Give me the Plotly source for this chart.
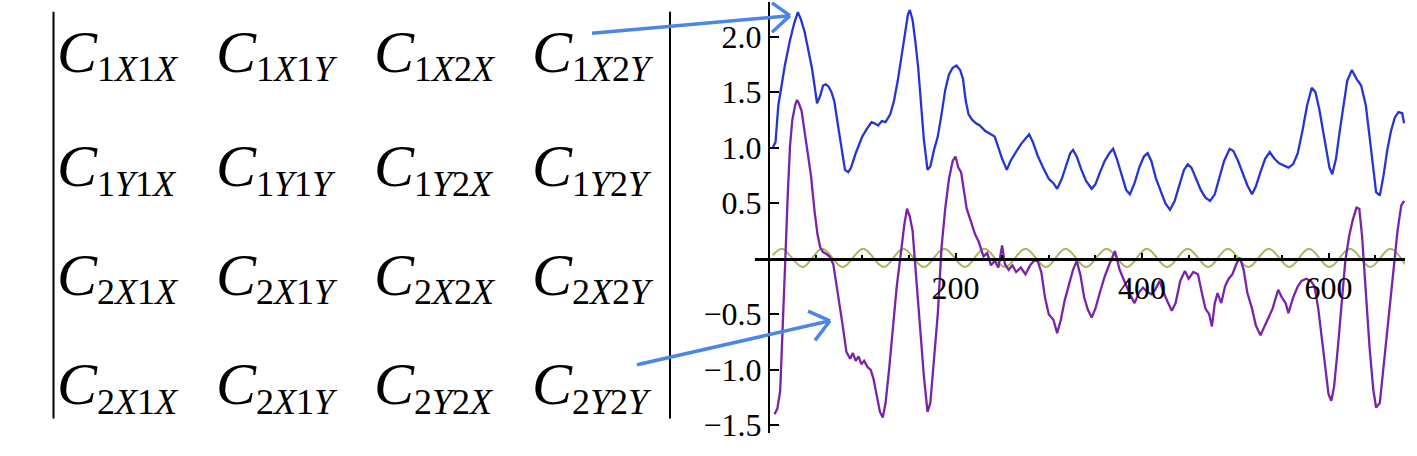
import plotly.graph_objects as go

W, H = 1417, 456

# matrix entries: subscripts of C, row by row
MATRIX_SUBS = [
    ["1X1X", "1X1Y", "1X2X", "1X2Y"],
    ["1Y1X", "1Y1Y", "1Y2X", "1Y2Y"],
    ["2X1X", "2X1Y", "2X2X", "2X2Y"],
    ["2X1X", "2X1Y", "2Y2X", "2Y2Y"],
]

# blue curve
BLUE_X = [4, 7, 10, 17, 22, 27, 31, 34, 38, 42, 46, 49, 51.5, 55, 58, 61, 64, 67, 70, 74, 78,
          81.5, 85, 88, 93, 97, 100, 105, 110, 113, 117, 121, 125, 130, 134, 138, 142, 146, 149,
          151, 154, 157, 160, 163, 166, 170, 173, 177, 181, 185, 189, 193, 197, 201, 205, 208,
          211, 214, 218, 222, 226, 232, 238, 242, 246, 250, 255, 259, 264, 270, 275, 279, 283,
          288, 294, 300, 305, 309, 314, 319, 323, 326, 330, 335, 340, 346, 350, 355, 360, 365,
          369, 373, 378, 383, 387, 392, 397, 402, 406, 410, 415, 420, 425, 430, 435, 440, 445,
          449, 453, 458, 463, 468, 473, 478, 483, 488, 494, 498, 503, 508, 513, 518, 522, 527,
          532, 537, 542, 547, 552, 557, 562, 567, 572, 577, 582, 586, 590, 594, 598, 601, 604,
          608, 612, 616, 620, 625, 630, 635, 640, 644, 648, 651, 655, 659, 663, 667, 671, 675,
          679, 681]
BLUE_Y = [1.00, 1.05, 1.38, 1.74, 1.95, 2.12, 2.22, 2.16, 2.05, 1.89, 1.72, 1.55, 1.40, 1.47,
          1.56, 1.57, 1.55, 1.50, 1.42, 1.20, 0.98, 0.80, 0.78, 0.82, 0.95, 1.04, 1.10, 1.17,
          1.23, 1.22, 1.20, 1.24, 1.23, 1.30, 1.42, 1.60, 1.82, 2.05, 2.20, 2.24, 2.15, 1.95,
          1.72, 1.40, 1.08, 0.80, 0.83, 0.98, 1.10, 1.30, 1.52, 1.66, 1.72, 1.74, 1.70, 1.62,
          1.42, 1.30, 1.25, 1.22, 1.20, 1.15, 1.12, 1.10, 1.00, 0.90, 0.80, 0.88, 0.95, 1.03,
          1.08, 1.12, 1.05, 0.93, 0.82, 0.72, 0.68, 0.63, 0.72, 0.86, 0.95, 0.98, 0.92, 0.80,
          0.70, 0.63, 0.67, 0.78, 0.88, 0.95, 0.99, 0.90, 0.75, 0.62, 0.58, 0.68, 0.82, 0.92,
          0.95, 0.88, 0.72, 0.60, 0.50, 0.44, 0.52, 0.66, 0.80, 0.85, 0.82, 0.72, 0.62, 0.55,
          0.52, 0.58, 0.74, 0.88, 0.99, 0.97, 0.88, 0.76, 0.66, 0.58, 0.65, 0.78, 0.90, 0.96,
          0.90, 0.86, 0.84, 0.82, 0.85, 0.95, 1.15, 1.38, 1.54, 1.50, 1.35, 1.15, 0.95, 0.82,
          0.76, 0.90, 1.15, 1.40, 1.60, 1.70, 1.62, 1.56, 1.38, 1.10, 0.80, 0.60, 0.57, 0.75,
          0.98, 1.15, 1.27, 1.32, 1.31, 1.22]

# purple curve
PURPLE_X = [6, 9, 12, 14, 16, 18, 20, 22.5, 25, 28, 30, 32, 35, 38, 41, 45, 49, 52, 55, 58, 62,
            65, 69, 72, 75, 79, 83, 87, 90, 93, 96, 99, 102, 106, 109, 112, 116, 119, 122, 125,
            129, 133, 137, 141, 145, 148, 151, 154, 158, 162, 166, 170, 173, 177, 181, 185, 189,
            193, 197, 200, 203, 206, 209, 212, 216, 221, 225, 230, 234, 238, 242, 246, 250, 253,
            257, 261, 265, 270, 275, 280, 284, 288, 292, 296, 300, 305, 309, 313, 317, 321, 326,
            330, 334, 338, 342, 346, 350, 355, 360, 365, 371, 376, 382, 387, 392, 397, 401, 406,
            410, 414, 419, 423, 428, 432, 436, 441, 446, 450, 455, 460, 464, 468, 472, 475, 478,
            481, 485, 489, 493, 497, 501, 505, 509, 513, 518, 522, 527, 531, 535, 540, 546, 550,
            554, 557, 562, 567, 571, 576, 581, 585, 589, 593, 597, 600, 603, 606, 610, 614, 618,
            622, 626, 630, 633, 636, 640, 644, 648, 651, 655, 660, 665, 670, 674, 678, 681]
PURPLE_Y = [-1.40, -1.35, -1.19, -0.80, -0.30, 0.10, 0.55, 1.01, 1.25, 1.38, 1.43, 1.40, 1.33,
            1.15, 1.01, 0.75, 0.42, 0.22, 0.10, 0.06, 0.04, 0.02, -0.05, -0.20, -0.38, -0.60,
            -0.84, -0.90, -0.85, -0.92, -0.88, -0.95, -0.92, -0.98, -1.00, -1.08, -1.25, -1.38,
            -1.43, -1.30, -0.98, -0.61, -0.25, 0.02, 0.30, 0.45, 0.38, 0.25, -0.20, -0.61, -1.05,
            -1.38, -1.30, -0.90, -0.50, 0.10, 0.45, 0.72, 0.88, 0.92, 0.82, 0.78, 0.60, 0.45,
            0.35, 0.22, 0.15, 0.02, 0.05, -0.06, -0.02, -0.08, 0.12, -0.05, -0.10, -0.06, -0.12,
            -0.08, -0.14, -0.06, -0.02, -0.02, -0.12, -0.35, -0.50, -0.55, -0.67, -0.55, -0.38,
            -0.25, -0.10, -0.02, -0.15, -0.35, -0.46, -0.53, -0.45, -0.30, -0.16, -0.05, 0.07,
            -0.10, -0.22, -0.32, -0.40, -0.30, -0.26, -0.30, -0.32, -0.28, -0.20, -0.30, -0.40,
            -0.47, -0.40, -0.20, -0.11, -0.18, -0.12, -0.14, -0.30, -0.45, -0.50, -0.61, -0.40,
            -0.31, -0.40, -0.25, -0.18, -0.14, -0.05, 0.01, -0.10, -0.31, -0.45, -0.60, -0.69,
            -0.62, -0.55, -0.45, -0.28, -0.35, -0.40, -0.49, -0.35, -0.25, -0.20, -0.18, -0.20,
            -0.25, -0.45, -0.75, -1.05, -1.22, -1.28, -1.15, -0.80, -0.40, -0.02, 0.20, 0.35,
            0.46, 0.45, 0.20, -0.30, -0.80, -1.18, -1.34, -1.30, -0.90, -0.46, -0.05, 0.25,
            0.48, 0.52]

# green oscillation: peaks and troughs
GREEN_X = [4, 14, 36, 57, 79, 101, 123, 144, 166, 188, 210, 231, 253, 275, 297, 318, 340, 362,
           384, 405, 427, 449, 471, 492, 514, 536, 558, 579, 601, 623, 645, 666, 682]
GREEN_Y = [0.03, 0.09, -0.075, 0.09, -0.075, 0.09, -0.075, 0.09, -0.075, 0.09, -0.075, 0.09,
           -0.075, 0.09, -0.075, 0.09, -0.075, 0.09, -0.075, 0.09, -0.075, 0.09, -0.075, 0.09,
           -0.075, 0.09, -0.075, 0.09, -0.075, 0.09, -0.075, 0.09, -0.05]

Y_TICKS = [-1.5, -1.0, -0.5, 0.5, 1.0, 1.5, 2.0]
Y_TICK_TEXT = ["\u22121.5", "\u22121.0", "\u22120.5", "0.5", "1.0", "1.5", "2.0"]
X_TICKS = [200, 400, 600]
X_MINOR = [50, 100, 150, 250, 300, 350, 450, 500, 550, 650]

FONT = "Liberation Serif, Times New Roman, serif"
ARROW = "#4a86e8"


def px(x):
    return x / W


def py(y):
    return 1 - y / H


def sub_html(s):
    return "".join(ch if ch.isdigit() else "<i>%s</i>" % ch for ch in s)


fig = go.Figure()
fig.add_trace(go.Scatter(x=GREEN_X, y=GREEN_Y, mode="lines", line_shape="spline",
                         line=dict(color="#a9b65c", width=2)))
fig.add_trace(go.Scatter(x=PURPLE_X, y=PURPLE_Y, mode="lines",
                         line=dict(color="#7b22a8", width=2.3)))
fig.add_trace(go.Scatter(x=BLUE_X, y=BLUE_Y, mode="lines",
                         line=dict(color="#2633d6", width=2.3)))

# matrix of C entries: big italic C, then a smaller subscript beside it
col_left = [60, 219, 377, 535]
row_base = [73, 190, 301, 413]
annotations = []
for r, row in enumerate(MATRIX_SUBS):
    for c, s in enumerate(row):
        annotations.append(dict(
            x=px(col_left[c] - 4), y=py(row_base[r] - 20), xref="paper", yref="paper",
            text="<i>C</i>", showarrow=False, xanchor="left", yanchor="middle", borderpad=0,
            font=dict(family=FONT, size=60, color="black")))
        annotations.append(dict(
            x=px(col_left[c] + 36), y=py(row_base[r] + 10 - 12), xref="paper", yref="paper",
            text=sub_html(s), showarrow=False, xanchor="left", yanchor="middle", borderpad=0,
            font=dict(family=FONT, size=36, color="black")))

shapes = [
    dict(type="line", xref="paper", yref="paper", x0=px(53.5), x1=px(53.5), y0=py(12), y1=py(428),
         line=dict(color="black", width=2)),
    dict(type="line", xref="paper", yref="paper", x0=px(670), x1=px(670), y0=py(12), y1=py(428),
         line=dict(color="black", width=2)),
]
# two arrows with open heads
for (x0, y0), (tx, ty), arms in [((592, 34), (790, 16), [(772, 3), (772, 33)]),
                                  ((637, 373), (830, 328), [(808, 318), (815, 348)])]:
    shapes.append(dict(type="line", xref="paper", yref="paper", x0=px(x0), y0=py(y0),
                       x1=px(tx), y1=py(ty), line=dict(color=ARROW, width=3.5)))
    for ax_, ay_ in arms:
        shapes.append(dict(type="line", xref="paper", yref="paper", x0=px(ax_), y0=py(ay_),
                           x1=px(tx), y1=py(ty), line=dict(color=ARROW, width=3.5)))

fig.update_layout(
    width=W, height=H,
    margin=dict(l=0, r=0, t=0, b=0),
    paper_bgcolor="white", plot_bgcolor="white",
    showlegend=False,
    font=dict(family=FONT, size=32, color="black"),
    annotations=annotations,
    shapes=shapes,
    xaxis=dict(domain=[px(755), px(1405)], range=[-15, 682], anchor="free", position=py(264.5),
               showgrid=False, zeroline=False, showline=True, linecolor="black", linewidth=2.5,
               ticks="inside", tickvals=X_TICKS, ticktext=[str(v) for v in X_TICKS],
               ticklen=5, tickwidth=1.5, tickcolor="black",
               minor=dict(tickvals=X_MINOR, ticks="inside", ticklen=3, tickcolor="black"),
               tickfont=dict(family=FONT, size=32)),
    yaxis=dict(domain=[py(442.7), py(2.3)], range=[-1.57, 2.31], anchor="free", position=px(769),
               showgrid=False, zeroline=False, showline=True, linecolor="black", linewidth=2,
               ticks="inside", tickvals=Y_TICKS, ticktext=Y_TICK_TEXT,
               ticklen=9, tickwidth=1.5, tickcolor="black",
               tickfont=dict(family=FONT, size=32)),
)

fig.write_html("out.html", config={"displayModeBar": False},
               post_script="document.body.style.margin='0';")
